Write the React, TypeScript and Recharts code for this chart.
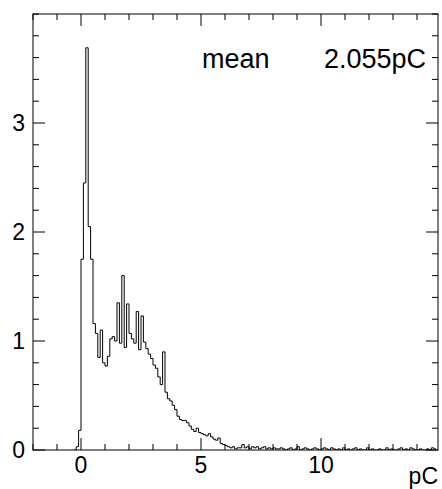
import { LineChart, Line, XAxis, YAxis } from 'recharts'

// histogram of collected charge, bins 0.1 pC wide starting at -0.3 pC
const BIN_START = -0.3
const BIN_WIDTH = 0.1

// -0.3 .. 2.9 pC
const coreCounts = [
  0, 0.03, 0.18, 1.75, 2.45, 3.69, 2.05, 1.75, 1.16, 1.07,
  0.85, 1.1, 0.8, 0.77, 0.86, 1.02, 1.04, 1.0, 1.35, 0.98,
  1.6, 0.94, 1.34, 1.07, 1.02, 0.98, 1.27, 0.92, 1.23, 0.99,
  0.93, 0.88, 0.84,
]
// 3.0 .. 6.6 pC
const fallCounts = [
  0.78, 0.75, 0.67, 0.6, 0.9, 0.53, 0.47, 0.45, 0.41, 0.37,
  0.31, 0.28, 0.27, 0.27, 0.25, 0.22, 0.19, 0.17, 0.2, 0.16,
  0.15, 0.14, 0.13, 0.15, 0.12, 0.1, 0.09, 0.11, 0.06, 0.05,
  0.04, 0.03, 0.02, 0.03, 0.01, 0.02, 0.02,
]
// 6.7 .. 14.7 pC
const tailCounts = [
  0.05, 0.02, 0.03, 0.01, 0.03, 0.02, 0.03, 0.01, 0.02, 0.03,
  0.01, 0.02, 0.01, 0.02, 0.01, 0.01, 0.02, 0.01, 0, 0.01,
  0.02, 0, 0.01, 0.03, 0, 0.01, 0.02, 0.01, 0, 0.01,
  0.02, 0.01, 0, 0.01, 0.02, 0.01, 0, 0.02, 0.01, 0,
  0.01, 0, 0.02, 0, 0.01, 0, 0.01, 0.02, 0, 0.01,
  0, 0, 0.02, 0, 0.01, 0, 0, 0.01, 0, 0,
  0.02, 0, 0.01, 0, 0, 0.01, 0.02, 0, 0.01, 0,
  0.02, 0.01, 0, 0, 0.01, 0, 0, 0.01, 0, 0.02,
  0.01,
]

const xTicks = [-2, -1, 0, 1, 2, 3, 4, 5, 6, 7, 8, 9, 10, 11, 12, 13, 14]
const xLabels = [0, 5, 10]
const yTicks = [
  0, 0.2, 0.4, 0.6, 0.8, 1, 1.2, 1.4, 1.6, 1.8, 2, 2.2, 2.4, 2.6, 2.8, 3,
  3.2, 3.4, 3.6, 3.8, 4,
]
const yLabels = [0, 1, 2, 3]

const counts = [...coreCounts, ...fallCounts, ...tailCounts]
const data = counts.map((v, i) => ({
  x: Math.round((BIN_START + i * BIN_WIDTH) * 100) / 100,
  y: v,
}))
// closing edge of the last bin
data.push({ x: Math.round((BIN_START + counts.length * BIN_WIDTH) * 100) / 100, y: counts[counts.length - 1] })

const FONT = '"Liberation Sans", Arial, Helvetica, sans-serif'
const W = 442
const H = 489
const MARGIN = { top: 14, right: 4, left: 0, bottom: 0 }
const Y_AXIS_W = 33
const X_AXIS_H = 39
// plot frame, follows from the margins and axis sizes above
const LEFT = MARGIN.left + Y_AXIS_W
const TOP = MARGIN.top
const RIGHT = W - MARGIN.right
const BOTTOM = H - MARGIN.bottom - X_AXIS_H
const MAJOR = 12
const MINOR = 6

// ROOT style: ticks point inwards, on both sides of the frame
const XTick = (props: any) => {
  const { x, payload } = props
  const major = xLabels.includes(payload.value)
  const len = major ? MAJOR : MINOR
  return (
    <g>
      <line x1={x} y1={BOTTOM} x2={x} y2={BOTTOM - len} stroke="#000" />
      <line x1={x} y1={TOP} x2={x} y2={TOP + len} stroke="#000" />
      {major && (
        <text x={x} y={BOTTOM + 23} textAnchor="middle" fontSize={23} fontFamily={FONT} fill="#000">
          {payload.value}
        </text>
      )}
    </g>
  )
}

const YTick = (props: any) => {
  const { y, payload } = props
  const major = yLabels.includes(payload.value)
  const len = major ? MAJOR : MINOR
  return (
    <g>
      <line x1={LEFT} y1={y} x2={LEFT + len} y2={y} stroke="#000" />
      <line x1={RIGHT} y1={y} x2={RIGHT - len} y2={y} stroke="#000" />
      {major && (
        <text x={LEFT - 8} y={y + 8} textAnchor="end" fontSize={23} fontFamily={FONT} fill="#000">
          {payload.value}
        </text>
      )}
    </g>
  )
}

export default function App() {
  return (
    <div style={{ position: 'relative', width: W, height: H, background: '#fff' }}>
      <style>{'body{margin:0}'}</style>
      <LineChart width={W} height={H} data={data} margin={MARGIN}>
        <XAxis
          dataKey="x"
          type="number"
          domain={[-2, 14.875]}
          allowDataOverflow
          ticks={xTicks}
          interval={0}
          height={X_AXIS_H}
          tickSize={0}
          tickMargin={0}
          tickLine={false}
          axisLine={false}
          tick={<XTick />}
        />
        <YAxis
          type="number"
          domain={[0, 4]}
          allowDataOverflow
          ticks={yTicks}
          interval={0}
          width={Y_AXIS_W}
          tickSize={0}
          tickMargin={0}
          tickLine={false}
          axisLine={false}
          tick={<YTick />}
        />
        <Line
          type="stepAfter"
          dataKey="y"
          stroke="#000"
          strokeWidth={1}
          dot={false}
          isAnimationActive={false}
        />
      </LineChart>
      <svg width={W} height={H} style={{ position: 'absolute', left: 0, top: 0, pointerEvents: 'none' }}>
        <rect x={LEFT} y={TOP} width={RIGHT - LEFT} height={BOTTOM - TOP} fill="none" stroke="#000" />
        <text x={202} y={68} fontSize={27} fontFamily={FONT} fill="#000">
          mean
        </text>
        <text x={426} y={68} textAnchor="end" fontSize={27} fontFamily={FONT} fill="#000">
          2.055pC
        </text>
        <text x={RIGHT} y={484} textAnchor="end" fontSize={23} fontFamily={FONT} fill="#000">
          pC
        </text>
      </svg>
    </div>
  )
}
